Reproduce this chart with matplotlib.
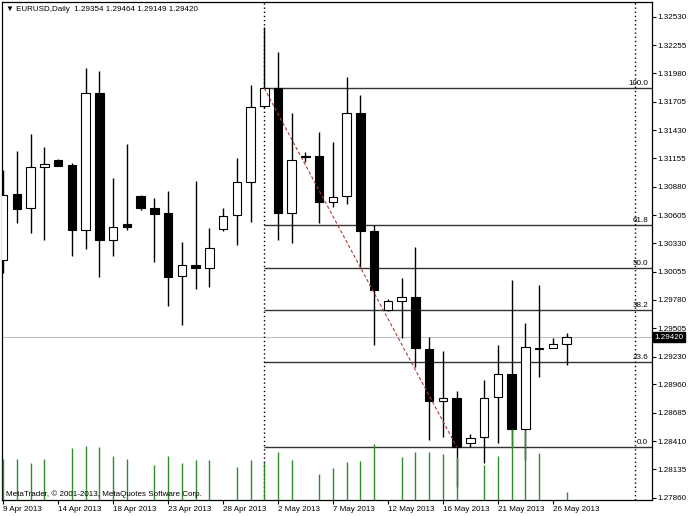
import matplotlib.pyplot as plt
import numpy as np
import pandas as pd

plt.rcParams['font.family'] = ['Liberation Sans', 'DejaVu Sans']

# EURUSD daily bars
dates = ['2013-04-09', '2013-04-10', '2013-04-11', '2013-04-12', '2013-04-14', '2013-04-15',
         '2013-04-16', '2013-04-17', '2013-04-18', '2013-04-19', '2013-04-21', '2013-04-22',
         '2013-04-23', '2013-04-24', '2013-04-25', '2013-04-26', '2013-04-28', '2013-04-29',
         '2013-04-30', '2013-05-01', '2013-05-02', '2013-05-03', '2013-05-05', '2013-05-06',
         '2013-05-07', '2013-05-08', '2013-05-09', '2013-05-10', '2013-05-12', '2013-05-13',
         '2013-05-14', '2013-05-15', '2013-05-16', '2013-05-17', '2013-05-19', '2013-05-20',
         '2013-05-21', '2013-05-22', '2013-05-23', '2013-05-24', '2013-05-26', '2013-05-27']
opens = [1.30168, 1.30806, 1.30676, 1.31068, 1.31139, 1.31090, 1.30459, 1.31792, 1.30362, 1.30514,
         1.30792, 1.30676, 1.30621, 1.30015, 1.30119, 1.30087, 1.30466, 1.30605, 1.30928, 1.31663,
         1.31835, 1.30621, 1.31174, 1.31178, 1.30734, 1.30789, 1.31598, 1.30449, 1.29682, 1.29773,
         1.29812, 1.29304, 1.28799, 1.28831, 1.28394, 1.28446, 1.28841, 1.29061, 1.28524, 1.29318,
         1.29311, 1.29354]
highs = [1.31042, 1.31226, 1.31391, 1.31268, 1.31148, 1.31107, 1.32029, 1.32006, 1.30961, 1.31291,
         1.30799, 1.30773, 1.30841, 1.30346, 1.30938, 1.30476, 1.30670, 1.31161, 1.31867, 1.32433,
         1.32190, 1.31598, 1.31219, 1.31413, 1.31316, 1.31947, 1.31770, 1.30512, 1.29789, 1.29996,
         1.30291, 1.29423, 1.29287, 1.28896, 1.28478, 1.29003, 1.29340, 1.29977, 1.29561, 1.29928,
         1.29408, 1.29464]
lows = [1.30042, 1.30524, 1.30433, 1.30362, 1.31080, 1.30207, 1.30272, 1.30006, 1.30207, 1.30459,
        1.30653, 1.30148, 1.29721, 1.29537, 1.29883, 1.29903, 1.30452, 1.30313, 1.30534, 1.31644,
        1.30362, 1.30330, 1.31122, 1.30530, 1.30685, 1.30709, 1.30103, 1.29343, 1.29677, 1.29408,
        1.29132, 1.28420, 1.28452, 1.27964, 1.28349, 1.28197, 1.28394, 1.28362, 1.28226, 1.29035,
        1.29309, 1.29149]
closes = [1.30799, 1.30663, 1.31074, 1.31100, 1.31083, 1.30459, 1.31792, 1.30362, 1.30491, 1.30491,
          1.30676, 1.30617, 1.30006, 1.30119, 1.30087, 1.30287, 1.30598, 1.30928, 1.31656, 1.31835,
          1.30621, 1.31139, 1.31168, 1.30734, 1.30782, 1.31598, 1.30452, 1.29877, 1.29773, 1.29812,
          1.29311, 1.28799, 1.28825, 1.28355, 1.28443, 1.28831, 1.29061, 1.28524, 1.29320, 1.29301,
          1.29349, 1.29420]
# tick volume
volumes = [40700, 40700, 37300, 40700, 300, 51700, 54000, 53000, 43700, 41000,
           300, 35000, 43700, 37300, 40300, 40000, 300, 33300, 40000, 38300,
           48300, 40000, 300, 25700, 32300, 38300, 39300, 55700, 300, 42700,
           48300, 48300, 46000, 43300, 300, 35000, 44300, 71000, 70000, 47300,
           300, 8300]

# price scale labels as printed by the terminal
price_labels = ['1.32530', '1.32255', '1.31980', '1.31705', '1.31430', '1.31155', '1.30880',
                '1.30605', '1.30330', '1.30055', '1.29780', '1.29505', '1.29230', '1.28960',
                '1.28685', '1.28410', '1.28135', '1.27860']

# fibonacci retracement between 1 May close and 17 May close
fib_high = 1.31835
fib_low = 1.28355
fib_from = '2013-05-01'
fib_to = '2013-05-17'
fib_ratios = [0.0, 23.6, 38.2, 50.0, 61.8, 100.0]
future_line_bars = 5   # vertical line drawn 5 bars after the last bar

fs = 5.8
x = np.arange(len(dates))
o, h, l, c = map(np.array, (opens, highs, lows, closes))

fig = plt.figure(figsize=(6.88, 5.16), dpi=100)
ax = fig.add_axes([2 / 688, 16 / 516, 650 / 688, 498 / 516])

# candles
ax.vlines(x, l, h, color='black', lw=1, zorder=3)
ax.bar(x, np.abs(c - o), bottom=np.minimum(o, c), width=0.62,
       color=np.where(c >= o, 'white', 'black'), edgecolor='black', linewidth=0.8, zorder=4)

# bid line
ax.axhline(closes[-1], color='#c0c0c0', lw=0.8, zorder=1)

# fibo
i0 = dates.index(fib_from)
i1 = dates.index(fib_to)
xmax = 47.22
for r in fib_ratios:
    lev = fib_low + (fib_high - fib_low) * r / 100
    ax.hlines(lev, i0, xmax, color='#333333', lw=1, zorder=2)
    ax.text(0.994, lev + 0.00008, f'{r:.1f}', transform=ax.get_yaxis_transform(),
            ha='right', va='bottom', fontsize=fs, zorder=5)
ax.plot([i0, i1], [fib_high, fib_low], color='#b03a3a', ls=(0, (3, 2)), lw=0.8, zorder=5)

# vertical lines
ax.axvline(i0, color='black', ls=(0, (1, 2)), lw=1, zorder=2)
ax.axvline(len(dates) - 1 + future_line_bars, color='black', ls=(0, (1, 2)), lw=1, zorder=2)

ax.set_xlim(-0.09, xmax)
ax.set_ylim(1.27838, 1.32673)

# axis ticks
ax.set_yticks([float(s) for s in price_labels])
ax.set_yticklabels(price_labels)
tick_idx = x[::4]
tick_lab = []
for i in tick_idx:
    t = pd.Timestamp(dates[i])
    tick_lab.append(f"{t.day} {t.strftime('%b %Y')}")
ax.set_xticks(tick_idx)
ax.set_xticklabels(tick_lab)
for lab in ax.get_xticklabels():
    lab.set_horizontalalignment('left')

# volumes on top
ax2 = ax.twinx()
ax2.vlines(x, 0, volumes, color='#2e8b2e', lw=1)
ax2.set_ylim(0, 498000)
ax2.set_yticks([])
for s in ax2.spines.values():
    s.set_visible(False)

ax.yaxis.tick_right()
ax.tick_params(axis='y', direction='out', length=3, width=0.8, pad=1.2, labelsize=fs,
               right=True, left=False)
ax.tick_params(axis='x', direction='out', length=3, width=0.8, pad=1.2, labelsize=fs)
for s in ax.spines.values():
    s.set_linewidth(0.9)

# current price tag
ax.text(1.004, closes[-1], f'{closes[-1]:.5f}', transform=ax.get_yaxis_transform(),
        ha='left', va='center', color='white', fontsize=fs, clip_on=False,
        bbox=dict(facecolor='black', edgecolor='black', pad=1.0))

header = '\u25bc EURUSD,Daily  ' + ' '.join(f'{v:.5f}' for v in (opens[-1], highs[-1], lows[-1], closes[-1]))
fig.text(6 / 688, 1 - 9.5 / 516, header, fontsize=fs, va='center', ha='left')
fig.text(6 / 688, 1 - 494.3 / 516, 'MetaTrader, \u00a9 2001-2013, MetaQuotes Software Corp.',
         fontsize=fs, va='center', ha='left')

fig.savefig('out.png', dpi=100)
